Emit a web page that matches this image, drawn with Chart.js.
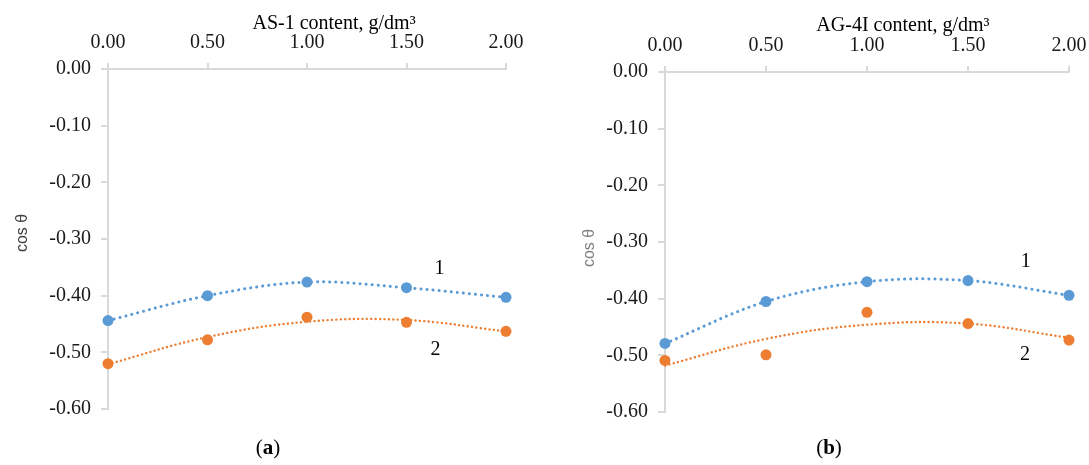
<!DOCTYPE html>
<html>
<head>
<meta charset="utf-8">
<script src="https://cdn.jsdelivr.net/npm/chart.js@4.4.0/dist/chart.umd.min.js"></script>
<style>
  body { margin: 0; background: #fff; width: 1089px; height: 465px; position: relative; overflow: hidden; }
  canvas { position: absolute; top: 0; }
  #chartA { left: 0; }
  #chartB { left: 545px; }
  .sub { position: absolute; top: 435px; font-family: "Liberation Serif", serif; font-size: 21px; line-height: 24px; color: #000; transform: translateX(-50%); }
</style>
</head>
<body>
<canvas id="chartA" width="545" height="465"></canvas>
<canvas id="chartB" width="544" height="465"></canvas>
<div class="sub" style="left:268px">(<b>a</b>)</div>
<div class="sub" style="left:829px">(<b>b</b>)</div>
<script>
    'use strict';

    // additive content, g/dm3
    var contentValues = [0, 0.5, 1, 1.5, 2];
    var xTickValues = [0, 0.5, 1, 1.5, 2];
    var yTickValues = [0, -0.1, -0.2, -0.3, -0.4, -0.5, -0.6];

    // (a) AS-1
    var as1Curve1 = [-0.444, -0.400, -0.376, -0.386, -0.403];
    var as1Curve2 = [-0.520, -0.478, -0.438, -0.447, -0.463];
    var as1Trend2 = [-0.521, -0.473, -0.446, -0.443, -0.463];

    // (b) AG-4I
    var ag4iCurve1 = [-0.479, -0.405, -0.370, -0.368, -0.394];
    var ag4iCurve2 = [-0.509, -0.499, -0.424, -0.444, -0.473];
    var ag4iTrend2 = [-0.518, -0.471, -0.446, -0.444, -0.469];

    var BLUE = '#5b9bd5';
    var ORANGE = '#ed7d31';
    var AXIS = '#d9d9d9';
    var SERIF = '"Liberation Serif", "Times New Roman", serif';

    function points(values) {
        return contentValues.map(function(x, i) {
            return { x: x, y: values[i] };
        });
    }

    var figText = {
        id: 'figText',
        afterDraw: function(chart, args, opts) {
            var ctx = chart.ctx;
            var area = chart.chartArea;
            var xs = chart.scales.x;
            var ys = chart.scales.y;
            ctx.save();
            ctx.fillStyle = '#000';
            ctx.font = '20px ' + SERIF;
            ctx.textAlign = 'center';
            ctx.textBaseline = 'alphabetic';
            ctx.fillText(opts.title, area.left + opts.titleFrac * (area.right - area.left), opts.titleY);

            ctx.textBaseline = 'middle';
            opts.marks.forEach(function(m) {
                ctx.fillText(m.text, xs.getPixelForValue(m.x), ys.getPixelForValue(m.y));
            });

            ctx.translate(opts.yTitleX, opts.yTitleY);
            ctx.rotate(-Math.PI / 2);
            ctx.font = '16px "Liberation Sans", Arial, sans-serif';
            ctx.fillStyle = opts.yTitleColor;
            ctx.fillText('cos θ', 0, 0);
            ctx.restore();
        }
    };

    function makeChart(id, cfg) {
        return new Chart(document.getElementById(id), {
            type: 'scatter',
            data: {
                datasets: [
                    {
                        label: '1',
                        data: points(cfg.curve1),
                        showLine: true,
                        borderColor: BLUE,
                        borderWidth: 3,
                        borderDash: [0.1, 6],
                        borderCapStyle: 'round',
                        tension: 0.35,
                        pointRadius: 5.5,
                        pointBorderWidth: 0,
                        pointBackgroundColor: BLUE,
                        clip: false,
                        order: 1
                    },
                    {
                        label: '2',
                        data: points(cfg.curve2),
                        showLine: false,
                        pointRadius: 5.5,
                        pointBorderWidth: 0,
                        pointBackgroundColor: ORANGE,
                        clip: false,
                        order: 2
                    },
                    {
                        label: 'trend 2',
                        data: points(cfg.trend2),
                        showLine: true,
                        borderColor: ORANGE,
                        borderWidth: 2.4,
                        borderDash: [0.1, 4.3],
                        borderCapStyle: 'round',
                        tension: 0.4,
                        pointRadius: 0,
                        clip: false,
                        order: 3
                    }
                ]
            },
            options: {
                responsive: false,
                animation: false,
                devicePixelRatio: 1,
                layout: { padding: { left: 0, top: 0, right: cfg.padRight, bottom: cfg.padBottom } },
                plugins: {
                    legend: { display: false },
                    tooltip: { enabled: false },
                    figText: cfg.text
                },
                scales: {
                    x: {
                        type: 'linear',
                        position: 'top',
                        min: 0,
                        max: 2,
                        afterBuildTicks: function(s) {
                            s.ticks = xTickValues.map(function(v) { return { value: v }; });
                        },
                        afterFit: function(s) {
                            s.height = cfg.areaTop;
                            s.paddingLeft = 0;
                            s.paddingRight = 0;
                        },
                        ticks: {
                            callback: function(v) { return Number(v).toFixed(2); },
                            font: { family: SERIF, size: 20 },
                            color: '#1a1a1a',
                            padding: 8,
                            maxRotation: 0,
                            autoSkip: false
                        },
                        grid: { drawOnChartArea: false, drawTicks: true, tickLength: 6, color: AXIS, lineWidth: 2 },
                        border: { color: AXIS, width: 2 }
                    },
                    y: {
                        type: 'linear',
                        position: 'left',
                        min: -0.6,
                        max: 0,
                        afterBuildTicks: function(s) {
                            s.ticks = yTickValues.map(function(v) { return { value: v }; });
                        },
                        afterFit: function(s) {
                            s.width = cfg.areaLeft;
                            s.paddingTop = 0;
                            s.paddingBottom = 0;
                        },
                        ticks: {
                            callback: function(v) { return Number(v).toFixed(2); },
                            font: { family: SERIF, size: 20 },
                            color: '#1a1a1a',
                            padding: 10,
                            autoSkip: false
                        },
                        grid: { drawOnChartArea: false, drawTicks: true, tickLength: 7, color: AXIS, lineWidth: 2 },
                        border: { color: AXIS, width: 2 }
                    }
                }
            },
            plugins: [figText]
        });
    }

    makeChart('chartA', {
        curve1: as1Curve1,
        curve2: as1Curve2,
        trend2: as1Trend2,
        areaLeft: 108,
        areaTop: 69,
        padRight: 39,
        padBottom: 56,
        text: {
            title: 'AS-1 content, g/dm³',
            titleFrac: 0.568,
            titleY: 29,
            yTitleX: 23,
            yTitleY: 233,
            yTitleColor: '#404040',
            marks: [{ text: '1', x: 1.666, y: -0.353 }, { text: '2', x: 1.646, y: -0.496 }]
        }
    });

    makeChart('chartB', {
        curve1: ag4iCurve1,
        curve2: ag4iCurve2,
        trend2: ag4iTrend2,
        areaLeft: 120,
        areaTop: 72,
        padRight: 20,
        padBottom: 53,
        text: {
            title: 'AG-4I content, g/dm³',
            titleFrac: 0.589,
            titleY: 31,
            yTitleX: 45,
            yTitleY: 248,
            yTitleColor: '#808080',
            marks: [{ text: '1', x: 1.786, y: -0.335 }, { text: '2', x: 1.782, y: -0.499 }]
        }
    });
</script>
</body>
</html>
